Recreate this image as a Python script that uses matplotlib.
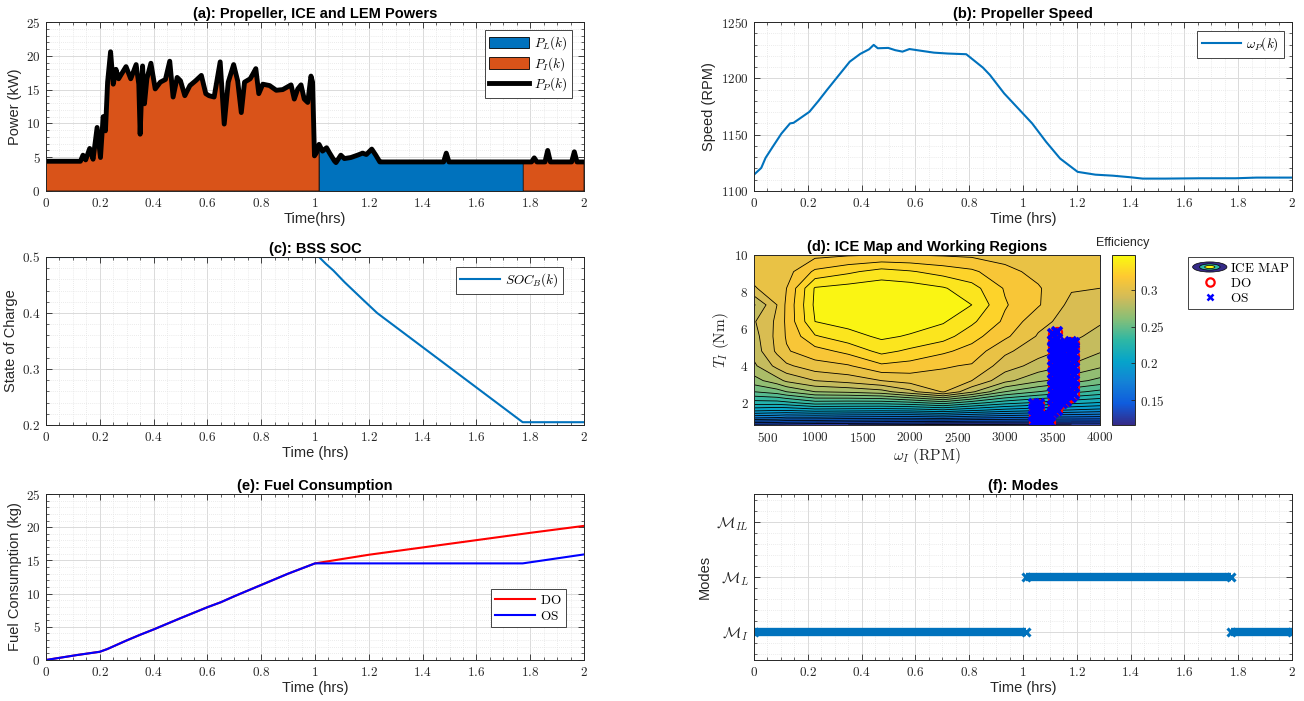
import numpy as np
import matplotlib
matplotlib.use('Agg')
import matplotlib.pyplot as plt
from matplotlib.colors import LinearSegmentedColormap, Normalize
from matplotlib.ticker import MultipleLocator, FuncFormatter, FixedLocator
from matplotlib.patches import Ellipse, Patch
from matplotlib.lines import Line2D
from matplotlib.legend_handler import HandlerBase
import matplotlib.colorbar as mcolorbar

plt.rcParams['font.family'] = ['Liberation Sans', 'DejaVu Sans']
plt.rcParams['mathtext.fontset'] = 'cm'

# ---------------- data ----------------
# (a) propeller power (kW) vs time (hrs)
t_pow = [0, 0.128, 0.1375, 0.1475, 0.1625, 0.175, 0.19, 0.2025, 0.2125, 0.221,
         0.229, 0.24, 0.25, 0.26, 0.27, 0.279, 0.2975, 0.315, 0.335, 0.345,
         0.35, 0.359, 0.366, 0.375, 0.39, 0.406, 0.425, 0.444, 0.46, 0.4725,
         0.4875, 0.5, 0.516, 0.535, 0.556, 0.5775, 0.594, 0.606, 0.625, 0.6475,
         0.6625, 0.6775, 0.6975, 0.7125, 0.726, 0.738, 0.759, 0.769, 0.78, 0.791,
         0.806, 0.831, 0.856, 0.88, 0.911, 0.923, 0.936, 0.948, 0.96, 0.973,
         0.985, 0.991, 0.998, 1.006, 1.015, 1.028, 1.043, 1.053, 1.072, 1.078,
         1.096, 1.109, 1.133, 1.158, 1.177, 1.191, 1.211, 1.226, 1.241, 1.25,
         1.478, 1.488, 1.498, 1.762, 1.772, 1.805, 1.815, 1.825, 1.855, 1.865,
         1.875, 1.954, 1.964, 1.974, 2.0]
p_prop = [4.4, 4.4, 5.3, 4.6, 6.3, 4.7, 9.4, 4.95, 11.0, 8.9,
          16.1, 20.6, 15.8, 18.0, 16.6, 17.2, 18.4, 16.6, 18.7, 15.8,
          8.4, 18.5, 12.9, 16.6, 18.9, 15.1, 16.1, 16.5, 19.2, 13.9,
          16.8, 16.3, 14.1, 15.6, 16.3, 17.1, 14.4, 14.1, 13.9, 19.1,
          9.9, 16.1, 18.7, 16.3, 11.6, 16.1, 16.6, 17.3, 18.1, 14.4,
          15.8, 15.6, 14.9, 15.0, 15.7, 13.6, 15.1, 15.7, 13.6, 13.1,
          17.0, 16.1, 5.2, 5.7, 6.9, 5.9, 6.4, 5.7, 4.46, 4.2,
          5.3, 4.8, 4.95, 5.3, 5.6, 5.4, 6.2, 5.3, 4.3, 4.3,
          4.3, 5.6, 4.3, 4.3, 4.3, 4.3, 4.9, 4.3, 4.3, 6.0,
          4.3, 4.3, 5.8, 4.3, 4.3]
lem_start, lem_end = 1.015, 1.772   # LEM-only interval (hrs)

# (b) propeller speed (RPM)
t_spd = [0, 0.027, 0.043, 0.069, 0.102, 0.134, 0.147, 0.167, 0.206, 0.239,
         0.271, 0.304, 0.356, 0.395, 0.428, 0.445, 0.46, 0.499, 0.525, 0.552,
         0.578, 0.617, 0.669, 0.721, 0.789, 0.851, 0.877, 0.93, 0.982, 1.034,
         1.086, 1.138, 1.203, 1.269, 1.334, 1.399, 1.445, 1.529, 1.66, 1.79,
         1.868, 2.0]
spd = [1114.5, 1120.5, 1129.4, 1139, 1151, 1160, 1160.5, 1163.8, 1170.3, 1179.8,
       1189.6, 1199.4, 1214.8, 1221.7, 1225.8, 1229.7, 1226.7, 1227, 1225, 1223.7,
       1226, 1224.6, 1222.8, 1222, 1221.4, 1209.5, 1203, 1186.6, 1173.3, 1160,
       1143.6, 1128.8, 1117, 1114.5, 1113.6, 1112.2, 1111, 1111, 1111.3, 1111.3,
       1111.9, 1111.9]

# (c) battery SOC
t_soc = [0, 1.015, 1.04, 1.068, 1.11, 1.18, 1.231, 1.772, 2.0]
soc = [0.5, 0.5, 0.488, 0.476, 0.455, 0.423, 0.400, 0.205, 0.205]

# (e) fuel consumption (kg)
t_fuel_common = [0, 0.114, 0.2, 0.228, 0.3, 0.35, 0.4, 0.5, 0.6, 0.65, 0.7, 0.8, 0.9, 1.0]
fuel_common = [0, 0.74, 1.24, 1.65, 2.95, 3.8, 4.6, 6.3, 7.95, 8.7, 9.6, 11.3, 13.0, 14.55]
t_fuel_do = [1.0, 1.2, 1.4, 1.6, 1.8, 2.0]
fuel_do = [14.55, 15.85, 16.95, 18.05, 19.15, 20.2]
t_fuel_os = [1.0, 1.772, 2.0]
fuel_os = [14.55, 14.55, 15.9]

# (f) modes: 1 = M_I, 2 = M_L, 3 = M_IL
mode_t_start = [0.0, 1.012, 1.772]
mode_t_end = [1.012, 1.772, 2.0]
mode_val = [1, 2, 1]

# (d) ICE efficiency map
map_rpm = [358, 600, 700, 1000, 1350, 1700, 2000, 2350, 2650, 3000, 3350, 3700, 4000]
map_T = [0.8, 1.2, 1.6, 2.0, 2.6, 3.2, 4.0, 4.8, 5.6, 6.4, 7.3, 8.2, 9.1, 10.0]
eff_by_rpm = [
    [0.125, 0.172, 0.203, 0.225, 0.250, 0.266, 0.278, 0.284, 0.286, 0.289, 0.279, 0.2995, 0.302, 0.303],
    [0.124, 0.170, 0.201, 0.225, 0.255, 0.276, 0.293, 0.302, 0.303, 0.302, 0.300, 0.303, 0.304, 0.304],
    [0.123, 0.168, 0.201, 0.227, 0.260, 0.282, 0.298, 0.309, 0.311, 0.312, 0.312, 0.310, 0.306, 0.304],
    [0.121, 0.168, 0.205, 0.235, 0.270, 0.290, 0.306, 0.316, 0.329, 0.340, 0.342, 0.341, 0.322, 0.307],
    [0.120, 0.166, 0.204, 0.234, 0.272, 0.294, 0.309, 0.323, 0.336, 0.344, 0.347, 0.344, 0.328, 0.309],
    [0.119, 0.165, 0.203, 0.234, 0.276, 0.300, 0.318, 0.333, 0.342, 0.347, 0.348, 0.346, 0.334, 0.310],
    [0.118, 0.164, 0.204, 0.237, 0.287, 0.304, 0.316, 0.328, 0.339, 0.345, 0.347, 0.345, 0.331, 0.310],
    [0.116, 0.166, 0.208, 0.244, 0.301, 0.306, 0.311, 0.322, 0.334, 0.341, 0.345, 0.341, 0.326, 0.309],
    [0.116, 0.163, 0.202, 0.234, 0.282, 0.300, 0.309, 0.316, 0.324, 0.332, 0.340, 0.334, 0.322, 0.308],
    [0.118, 0.160, 0.196, 0.224, 0.260, 0.283, 0.295, 0.302, 0.312, 0.318, 0.321, 0.319, 0.313, 0.306],
    [0.119, 0.158, 0.192, 0.218, 0.250, 0.272, 0.286, 0.294, 0.299, 0.303, 0.311, 0.311, 0.307, 0.304],
    [0.120, 0.157, 0.189, 0.213, 0.243, 0.264, 0.279, 0.287, 0.292, 0.296, 0.297, 0.301, 0.303, 0.303],
    [0.121, 0.156, 0.186, 0.209, 0.237, 0.257, 0.272, 0.281, 0.287, 0.291, 0.295, 0.300, 0.302, 0.302],
]
# ICE working points (RPM, Nm)
ice_rpm = [3305, 3305, 3305, 3305, 3360, 3360, 3360, 3360,
           3415, 3415, 3470, 3470,
           3510, 3510, 3510, 3510, 3510, 3510, 3510, 3510, 3510, 3510, 3510, 3510, 3510,
           3550, 3550, 3550, 3550, 3550, 3550, 3550, 3550, 3550, 3550, 3550, 3550, 3550,
           3600, 3600, 3600, 3600, 3600, 3600, 3600, 3600, 3600, 3600,
           3645, 3645, 3645, 3645, 3645, 3645, 3645, 3645, 3645, 3645,
           3690, 3690, 3690, 3690, 3690, 3690, 3690, 3690, 3690, 3690,
           3730, 3730, 3730, 3730, 3730, 3730, 3730, 3730, 3730]
ice_T = [0.95, 1.3, 1.65, 1.95, 0.95, 1.3, 1.65, 1.95,
         0.95, 1.3, 0.95, 1.3,
         1.5, 1.85, 2.2, 2.55, 2.9, 3.25, 3.6, 3.95, 4.3, 4.65, 5.0, 5.35, 5.7,
         1.6, 1.95, 2.3, 2.65, 3.0, 3.35, 3.7, 4.05, 4.4, 4.75, 5.1, 5.45, 5.85,
         2.0, 2.35, 2.7, 3.05, 3.4, 3.75, 4.1, 4.45, 4.8, 5.15,
         2.1, 2.45, 2.8, 3.15, 3.5, 3.85, 4.2, 4.55, 4.9, 5.25,
         2.3, 2.65, 3.0, 3.35, 3.7, 4.05, 4.4, 4.75, 5.1, 5.3,
         2.5, 2.85, 3.2, 3.55, 3.9, 4.25, 4.6, 4.95, 5.25]

# ---------------- styling helpers ----------------
BLUE = '#0072BD'
ORANGE = '#D95319'
AXC = '#262626'
TFS = 9.5

parula = LinearSegmentedColormap.from_list('parula', [
    (0.0, '#352A87'), (0.125, '#0F5CDD'), (0.25, '#1481D6'), (0.375, '#06A4CA'),
    (0.5, '#2EB7A4'), (0.625, '#87BF77'), (0.75, '#D1BB59'), (0.875, '#FEC832'),
    (1.0, '#F9FB0E')])

mfmt = FuncFormatter(lambda v, p: r'$%s$' % ('%g' % round(v, 6)))


def style(ax, xmaj, xmin, ymaj, ymin, grid=True):
    ax.xaxis.set_major_locator(MultipleLocator(xmaj))
    ax.yaxis.set_major_locator(MultipleLocator(ymaj))
    if xmin:
        ax.xaxis.set_minor_locator(MultipleLocator(xmin))
    if ymin:
        ax.yaxis.set_minor_locator(MultipleLocator(ymin))
    ax.xaxis.set_major_formatter(mfmt)
    ax.yaxis.set_major_formatter(mfmt)
    ax.tick_params(which='both', direction='in', top=True, right=True,
                   colors=AXC, labelsize=TFS, labelcolor=AXC)
    ax.tick_params(which='major', length=4, width=0.6, pad=4)
    ax.tick_params(which='minor', length=2, width=0.5)
    for s in ax.spines.values():
        s.set_color(AXC)
        s.set_linewidth(0.7)
    if grid:
        ax.grid(which='major', color='#dadada', lw=0.7)
        ax.grid(which='minor', color='#e4e4e4', lw=0.6, ls=(0, (1, 1.5)))
    ax.set_axisbelow(True)


def leg(ax, handles, labels, loc, anchor, **kw):
    lg = ax.legend(handles, labels, loc=loc, bbox_to_anchor=anchor, borderaxespad=0,
                   fancybox=False, framealpha=1, edgecolor=AXC, fontsize=TFS,
                   borderpad=0.35, labelspacing=0.2, handletextpad=0.4, **kw)
    lg.get_frame().set_linewidth(0.6)
    return lg


def title(ax, s):
    ax.set_title(s, fontsize=10.5, fontweight='bold', pad=3)


LFS = 10.5
W, H = 1304, 701
fig = plt.figure(figsize=(W / 100, H / 100), dpi=100)


def rect(l, t, r, b):
    return [l / W, 1 - b / H, (r - l) / W, (b - t) / H]


# ---------------- (a) ----------------
ax = fig.add_axes(rect(46, 22, 584, 191))
tp = np.array(t_pow)
pp = np.array(p_prop)
m_lem = (tp >= lem_start) & (tp <= lem_end)
m_ice = (tp <= lem_start) | (tp >= lem_end)
ax.fill_between(tp, 0, pp, where=m_ice, facecolor=ORANGE, edgecolor='k', lw=0.5)
ax.fill_between(tp, 0, pp, where=m_lem, facecolor=BLUE, edgecolor='k', lw=0.5)
ax.plot(tp, pp, color='k', lw=3.5, solid_joinstyle='round')
ax.set_xlim(0, 2)
ax.set_ylim(0, 25)
style(ax, 0.2, 0.05, 5, 1)
title(ax, '(a): Propeller, ICE and LEM Powers')
ax.set_xlabel('Time(hrs)', fontsize=LFS, color=AXC, labelpad=2)
ax.set_ylabel('Power (kW)', fontsize=LFS, color=AXC, labelpad=3)
leg(ax, [Patch(facecolor=BLUE, edgecolor='k', lw=0.6),
         Patch(facecolor=ORANGE, edgecolor='k', lw=0.6),
         Line2D([], [], color='k', lw=3.5)],
    [r'$P_L(k)$', r'$P_I(k)$', r'$P_P(k)$'], 'upper right', (0.978, 0.953),
    handlelength=3.0, handleheight=1.0)

# ---------------- (b) ----------------
ax = fig.add_axes(rect(754, 22, 1292, 191))
ax.plot(t_spd, spd, color=BLUE, lw=1.5)
ax.set_xlim(0, 2)
ax.set_ylim(1100, 1250)
style(ax, 0.2, 0.05, 50, 10)
title(ax, '(b): Propeller Speed')
ax.set_xlabel('Time (hrs)', fontsize=LFS, color=AXC, labelpad=2)
ax.set_ylabel('Speed (RPM)', fontsize=LFS, color=AXC, labelpad=3)
leg(ax, [Line2D([], [], color=BLUE, lw=1.5)], [r'$\omega_P(k)$'], 'upper right',
    (0.985, 0.947), handlelength=3.0)

# ---------------- (c) ----------------
ax = fig.add_axes(rect(46, 257, 584, 425))
ax.plot(t_soc, soc, color=BLUE, lw=1.5)
ax.set_xlim(0, 2)
ax.set_ylim(0.2, 0.5)
style(ax, 0.2, 0.05, 0.1, 0.02)
title(ax, '(c): BSS SOC')
ax.set_xlabel('Time (hrs)', fontsize=LFS, color=AXC, labelpad=2)
ax.set_ylabel('State of Charge', fontsize=LFS, color=AXC, labelpad=3)
leg(ax, [Line2D([], [], color=BLUE, lw=1.5)], [r'$SOC_B(k)$'], 'upper right',
    (0.961, 0.94), handlelength=3.0)

# ---------------- (d) ----------------
ax = fig.add_axes(rect(754, 255, 1100, 425))
E = np.array(eff_by_rpm).T
emin, emax = float(E.min()), float(E.max())
levels = [emin] + [round(v, 2) for v in np.arange(0.12, 0.345, 0.01)] + [emax]
norm = Normalize(emin, emax)
ax.contourf(map_rpm, map_T, E, levels=levels, cmap=parula, norm=norm)
ax.contour(map_rpm, map_T, E, levels=levels[1:-1], colors='k', linewidths=0.6)
ax.plot(ice_rpm, ice_T, 'o', ls='none', mfc='none', mec='r', mew=1.6, ms=6.5)
ax.plot(ice_rpm, ice_T, 'x', ls='none', color='b', mew=2.6, ms=6.5)
ax.set_xlim(358, 4000)
ax.set_ylim(0.8, 10)
style(ax, 500, None, 2, None, grid=False)
ax.xaxis.set_major_locator(FixedLocator([500, 1000, 1500, 2000, 2500, 3000, 3500, 4000]))
ax.yaxis.set_major_locator(FixedLocator([2, 4, 6, 8, 10]))
title(ax, '(d): ICE Map and Working Regions')
ax.set_xlabel(r'$\omega_I\ \mathrm{(RPM)}$', fontsize=11, color=AXC, labelpad=1)
ax.set_ylabel(r'$T_I\ \mathrm{(Nm)}$', fontsize=11, color=AXC, labelpad=2)


class EllipseHandler(HandlerBase):
    def create_artists(self, legend, orig_handle, xdescent, ydescent, width,
                       height, fontsize, trans):
        cx = 0.5 * width - xdescent
        cy = 0.5 * height - ydescent
        arts = []
        for sc, col in [(1.0, '#352A87'), (0.6, '#2EB7A4'), (0.3, '#F9FB0E')]:
            arts.append(Ellipse((cx, cy), width * sc, height * 1.1 * sc,
                                facecolor=col, edgecolor='k', lw=0.5,
                                transform=trans))
        return arts


ice_handle = Patch()
h_do = Line2D([], [], marker='o', ls='none', mfc='none', mec='r', mew=1.6, ms=6)
h_os = Line2D([], [], marker='x', ls='none', color='b', mew=1.8, ms=5)
lg = fig.legend([ice_handle, h_do, h_os],
                [r'$\mathrm{ICE\ MAP}$', r'$\mathrm{DO}$', r'$\mathrm{OS}$'],
                loc='upper left', bbox_to_anchor=(1188 / W, 1 - 257 / H),
                handler_map={Patch: EllipseHandler()}, fancybox=False,
                framealpha=1, edgecolor=AXC, fontsize=TFS, borderpad=0.35,
                labelspacing=0.15, handletextpad=0.2, handlelength=2.6,
                borderaxespad=0)
lg.get_frame().set_linewidth(0.6)

cax = fig.add_axes(rect(1112, 255, 1135, 425))
cb = mcolorbar.ColorbarBase(cax, cmap=parula, norm=norm)
cb.set_ticks([0.15, 0.2, 0.25, 0.3])
cb.ax.yaxis.set_major_formatter(mfmt)
cb.ax.tick_params(direction='in', length=3, width=0.6, colors=AXC, labelsize=TFS)
cb.outline.set_linewidth(0.7)
cb.outline.set_edgecolor(AXC)
fig.text(1123 / W, 1 - 243 / H, 'Efficiency', ha='center', va='center',
         fontsize=9, color=AXC)

# ---------------- (e) ----------------
ax = fig.add_axes(rect(46, 494, 584, 660))
ax.plot(t_fuel_common + t_fuel_do[1:], fuel_common + fuel_do[1:], color='r', lw=1.5)
ax.plot(t_fuel_common + t_fuel_os[1:], fuel_common + fuel_os[1:], color='b', lw=1.5)
ax.set_xlim(0, 2)
ax.set_ylim(0, 25)
style(ax, 0.2, 0.05, 5, 1)
title(ax, '(e): Fuel Consumption')
ax.set_xlabel('Time (hrs)', fontsize=LFS, color=AXC, labelpad=2)
ax.set_ylabel('Fuel Consumption (kg)', fontsize=LFS, color=AXC, labelpad=3)
leg(ax, [Line2D([], [], color='r', lw=1.5), Line2D([], [], color='b', lw=1.5)],
    [r'$\mathrm{DO}$', r'$\mathrm{OS}$'], 'lower right', (0.967, 0.198),
    handlelength=3.0)

# ---------------- (f) ----------------
ax = fig.add_axes(rect(754, 494, 1292, 660))
for s, e, v in zip(mode_t_start, mode_t_end, mode_val):
    ax.plot([s, e], [v, v], color=BLUE, lw=6, solid_capstyle='butt')
    ax.plot([s, e], [v, v], 'x', color=BLUE, ms=6, mew=2.2, ls='none')
ax.set_xlim(0, 2)
ax.set_ylim(0.5, 3.5)
style(ax, 0.2, 0.05, 1, 0.2)
ax.yaxis.set_major_locator(FixedLocator([1, 2, 3]))
ax.yaxis.set_major_formatter(FuncFormatter(
    lambda v, p: {1: r'$\mathcal{M}_I$', 2: r'$\mathcal{M}_L$', 3: r'$\mathcal{M}_{IL}$'}.get(int(round(v)), '')))
ax.tick_params(axis='y', labelsize=11)
title(ax, '(f): Modes')
ax.set_xlabel('Time (hrs)', fontsize=LFS, color=AXC, labelpad=2)
ax.set_ylabel('Modes', fontsize=LFS, color=AXC, labelpad=3)

fig.savefig('out.png', dpi=100)
